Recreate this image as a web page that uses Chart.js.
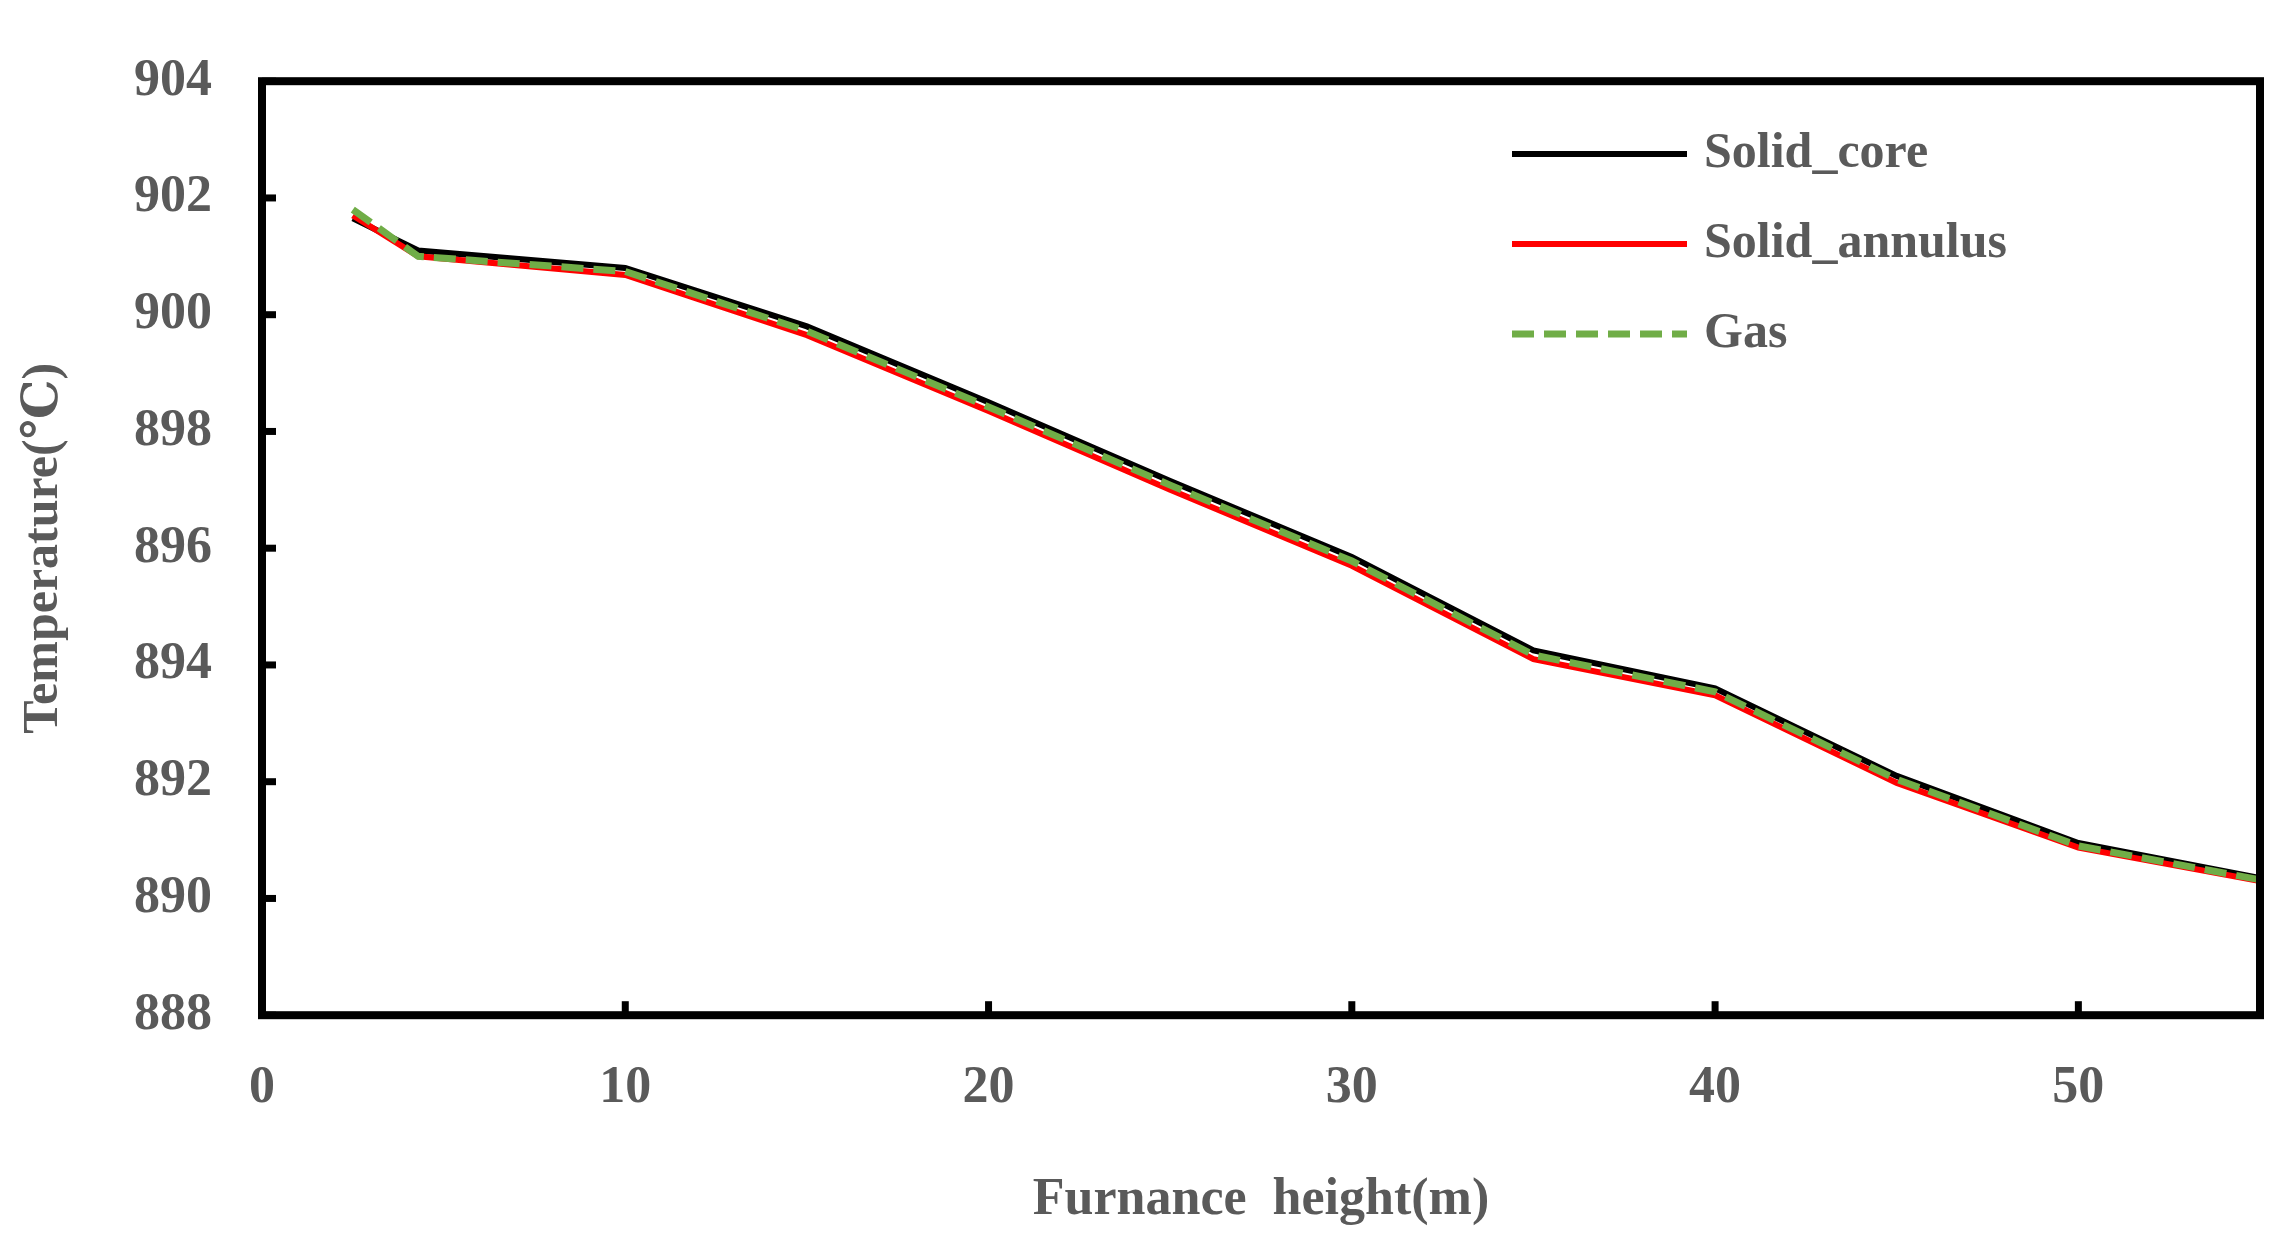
<!DOCTYPE html>
<html>
<head>
<script src="https://cdn.jsdelivr.net/npm/chart.js@4"></script>
<style>
  html, body { margin: 0; padding: 0; background: #fff; }
  #wrap { width: 2280px; height: 1248px; }
</style>
</head>
<body>
<div id="wrap"><canvas id="chart"></canvas></div>
<script>
let heights = [2.5, 4.3, 10, 15, 20, 25, 30, 35, 40, 45, 50, 55];
let solidCore = [901.65, 901.1, 900.8, 899.8, 898.5, 897.15, 895.85, 894.25, 893.6, 892.1, 890.95, 890.35];
let solidAnnulus = [901.7, 901.0, 900.68, 899.65, 898.35, 897.0, 895.7, 894.1, 893.48, 891.98, 890.87, 890.3];
let gas = [901.8, 901.0, 900.74, 899.72, 898.42, 897.08, 895.78, 894.17, 893.54, 892.04, 890.9, 890.32];
let yTicks = [888, 890, 892, 894, 896, 898, 900, 902, 904];
let xTicks = [0, 10, 20, 30, 40, 50];

const FONT = "'Liberation Serif', 'DejaVu Serif', serif";
const TEXT = "#5a5a5a";

function toPoints(ys) {
    return heights.map((h, i) => ({ x: h, y: ys[i] }));
}

// inward ticks and frame, positioned from the scales
const innerTicks = {
    id: "innerTicks",
    afterDraw(chart) {
        let ctx = chart.ctx;
        let a = chart.chartArea;
        let sx = chart.scales.x, sy = chart.scales.y;
        ctx.save();
        ctx.strokeStyle = "#000";
        ctx.lineWidth = 7;
        xTicks.forEach(v => {
            let px = sx.getPixelForValue(v);
            ctx.beginPath(); ctx.moveTo(px, a.bottom); ctx.lineTo(px, a.bottom - 14); ctx.stroke();
        });
        yTicks.forEach(v => {
            let py = sy.getPixelForValue(v);
            ctx.beginPath(); ctx.moveTo(a.left, py); ctx.lineTo(a.left + 14, py); ctx.stroke();
        });
        ctx.lineWidth = 8;
        ctx.strokeRect(a.left, a.top, a.right - a.left, a.bottom - a.top);
        ctx.restore();
    }
};

// legend placed inside the plot
const innerLegend = {
    id: "innerLegend",
    afterDraw(chart) {
        let ctx = chart.ctx;
        ctx.save();
        ctx.font = "bold 50px " + FONT;
        ctx.textBaseline = "middle";
        chart.data.datasets.forEach((ds, i) => {
            let y = 154 + i * 90;
            ctx.strokeStyle = ds.borderColor;
            ctx.lineWidth = ds.borderWidth;
            ctx.setLineDash(ds.borderDash || []);
            ctx.beginPath(); ctx.moveTo(1512, y); ctx.lineTo(1687, y); ctx.stroke();
            ctx.setLineDash([]);
            ctx.fillStyle = TEXT;
            ctx.fillText(ds.label, 1704, y);
        });
        ctx.restore();
    }
};

new Chart(document.getElementById("chart"), {
    type: "line",
    data: {
        datasets: [
            { label: "Solid_core", data: toPoints(solidCore), borderColor: "#000000", borderWidth: 6, pointRadius: 0, tension: 0, order: 2 },
            { label: "Solid_annulus", data: toPoints(solidAnnulus), borderColor: "#ff0000", borderWidth: 6, pointRadius: 0, tension: 0, order: 1 },
            { label: "Gas", data: toPoints(gas), borderColor: "#70ad47", borderWidth: 7, borderDash: [22, 10], pointRadius: 0, tension: 0, order: 0 }
        ]
    },
    options: {
        responsive: true,
        maintainAspectRatio: false,
        animation: false,
        layout: { padding: { top: 24, right: 20, left: 10, bottom: 12 } },
        plugins: { legend: { display: false }, tooltip: { enabled: false } },
        scales: {
            x: {
                type: "linear", min: 0, max: 55,
                afterBuildTicks: s => { s.ticks = xTicks.map(v => ({ value: v })); },
                grid: { display: false, drawTicks: false },
                border: { display: false },
                ticks: { color: TEXT, font: { family: FONT, size: 52, weight: "bold" }, padding: 42 },
                title: { display: true, text: "Furnance  height(m)", color: TEXT, font: { family: FONT, size: 52, weight: "bold" }, padding: { top: 8 } }
            },
            y: {
                min: 888, max: 904,
                afterBuildTicks: s => { s.ticks = yTicks.map(v => ({ value: v })); },
                grid: { display: false, drawTicks: false },
                border: { display: false },
                ticks: { color: TEXT, font: { family: FONT, size: 52, weight: "bold" }, padding: 50 },
                title: { display: true, text: "Temperature(℃)", color: TEXT, font: { family: FONT, size: 50, weight: "bold" }, padding: { bottom: 10 } }
            }
        }
    },
    plugins: [innerTicks, innerLegend]
});
</script>
</body>
</html>
